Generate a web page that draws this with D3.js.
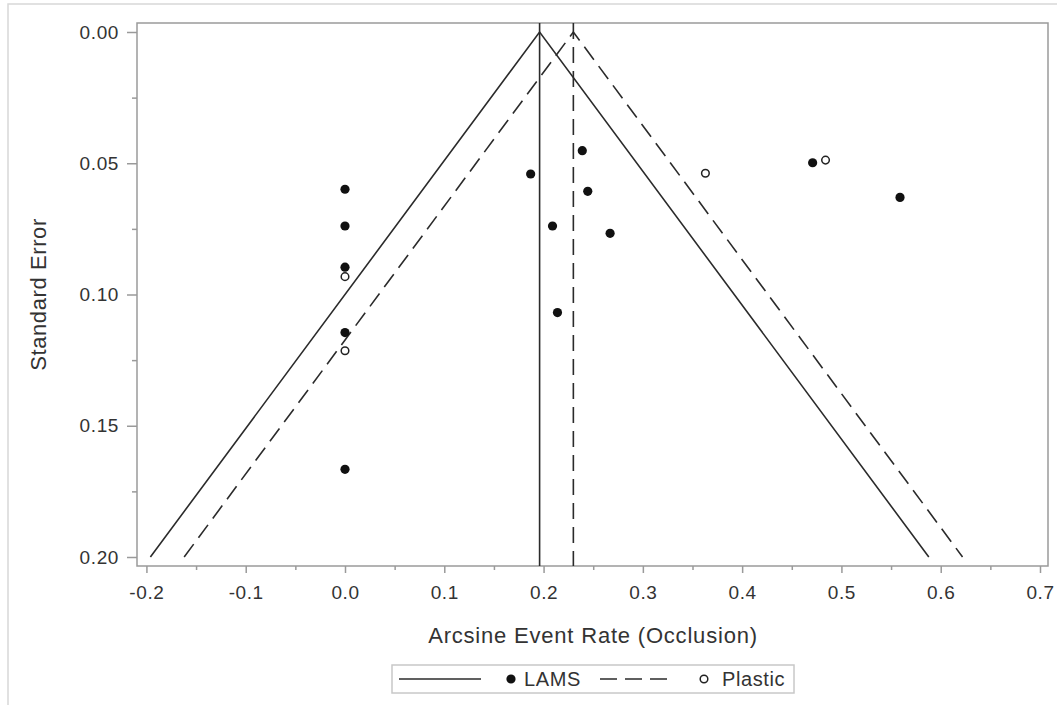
<!DOCTYPE html>
<html lang="en">
<head>
<meta charset="utf-8">
<title>Funnel plot: Arcsine Event Rate (Occlusion)</title>
<script src="https://cdn.jsdelivr.net/npm/d3@7"></script>
<style>
  body { margin: 0; background: #fff; }
  svg { display: block; font-family: "Liberation Sans", Arial, sans-serif; }
</style>
</head>
<body>
<script>
// data
var lamsRate = [0, 0, 0, 0, 0, 0.187, 0.239, 0.2445, 0.209, 0.267, 0.214, 0.471, 0.559];
var lamsSE   = [0.0599, 0.0739, 0.0896, 0.1145, 0.1666, 0.0541, 0.0452, 0.0607, 0.0739, 0.0767, 0.1069, 0.0498, 0.0630];
var plasticRate = [0, 0, 0.363, 0.484];
var plasticSE   = [0.0932, 0.1214, 0.0538, 0.0488];
var pooled = [0.196, 0.230];      // LAMS, Plastic
var seMax = 0.2;
var xTicks = [-0.2, -0.1, 0.0, 0.1, 0.2, 0.3, 0.4, 0.5, 0.6, 0.7];
var xMinor = [-0.15, -0.05, 0.05, 0.15, 0.25, 0.35, 0.45, 0.55, 0.65];
var yTicks = [0.00, 0.05, 0.10, 0.15, 0.20];
var yMinor = [0.025, 0.075, 0.125, 0.175];

var w = 1057, h = 705;
// plot area edges (note: "top" is a reserved window property)
var pLeft = 137, pRight = 1048, pTop = 23, pBottom = 566;

var svg = d3.select("body").append("svg")
  .attr("width", w)
  .attr("height", h);

// outer frame of the figure
svg.append("rect")
  .attr("x", 8).attr("y", 4)
  .attr("width", w).attr("height", h)
  .attr("fill", "none")
  .attr("stroke", "#d8d8d8")
  .attr("stroke-width", 1.5);

var xScale = d3.scaleLinear().domain([0, 0.7]).range([345, 1040]);
var yScale = d3.scaleLinear().domain([0, 0.2]).range([32, 557]);

// plot frame
svg.append("rect")
  .attr("x", pLeft).attr("y", pTop)
  .attr("width", pRight - pLeft).attr("height", pBottom - pTop)
  .attr("fill", "none")
  .attr("stroke", "#9a9a9a")
  .attr("stroke-width", 1.5);

var fmt1 = function(d) { return d3.format(".1f")(d).replace("\u2212", "-"); };
var fmt2 = function(d) { return d3.format(".2f")(d); };

// x axis
var xAxis = d3.axisBottom(xScale).tickValues(xTicks).tickSize(7).tickPadding(13).tickFormat(fmt1);
var xMinorAxis = d3.axisBottom(xScale).tickValues(xMinor).tickSize(4).tickFormat("");
var gx = svg.append("g").attr("transform", "translate(0," + pBottom + ")").call(xAxis);
var gxm = svg.append("g").attr("transform", "translate(0," + pBottom + ")").call(xMinorAxis);

// y axis
var yAxis = d3.axisLeft(yScale).tickValues(yTicks).tickSize(10).tickPadding(8).tickFormat(fmt2);
var yMinorAxis = d3.axisLeft(yScale).tickValues(yMinor).tickSize(5).tickFormat("");
var gy = svg.append("g").attr("transform", "translate(" + pLeft + ",0)").call(yAxis);
var gym = svg.append("g").attr("transform", "translate(" + pLeft + ",0)").call(yMinorAxis);

[gx, gxm, gy, gym].forEach(function(g) {
  g.attr("font-size", null).attr("font-family", null);
  g.select(".domain").remove();
  g.selectAll(".tick line").attr("stroke", "#9a9a9a").attr("stroke-width", 1.5);
  g.selectAll(".tick text")
    .attr("fill", "#333")
    .style("font-size", "19px")
    .style("letter-spacing", "0.6px");
});

// axis titles
svg.append("text")
  .attr("x", 593)
  .attr("y", 643)
  .attr("text-anchor", "middle")
  .style("font-size", "22px")
  .style("letter-spacing", "0.8px")
  .attr("fill", "#333")
  .text("Arcsine Event Rate (Occlusion)");

svg.append("text")
  .attr("transform", "translate(46," + ((pTop + pBottom) / 2) + ") rotate(-90)")
  .attr("text-anchor", "middle")
  .style("font-size", "22px")
  .style("letter-spacing", "0.6px")
  .attr("fill", "#333")
  .text("Standard Error");

// funnels: pooled estimate +/- 1.96*SE, and vertical line at pooled estimate
var dashes = ["none", "16,8"];
var line = d3.line()
  .x(function(d) { return xScale(d[0]); })
  .y(function(d) { return yScale(d[1]); });
pooled.forEach(function(p, i) {
  var g = svg.append("g")
    .attr("fill", "none")
    .attr("stroke", "#2b2b2b")
    .attr("stroke-width", 1.6)
    .attr("stroke-dasharray", dashes[i]);
  g.append("path").attr("d", line([[p - 1.96 * seMax, seMax], [p, 0], [p + 1.96 * seMax, seMax]]));
  g.append("line")
    .attr("x1", xScale(p)).attr("x2", xScale(p))
    .attr("y1", pTop).attr("y2", pBottom);
});

// points
svg.append("g").selectAll("circle")
  .data(d3.range(lamsRate.length))
  .enter()
  .append("circle")
  .attr("cx", function(i) { return xScale(lamsRate[i]); })
  .attr("cy", function(i) { return yScale(lamsSE[i]); })
  .attr("r", 4.6)
  .attr("fill", "#111");

svg.append("g").selectAll("circle")
  .data(d3.range(plasticRate.length))
  .enter()
  .append("circle")
  .attr("cx", function(i) { return xScale(plasticRate[i]); })
  .attr("cy", function(i) { return yScale(plasticSE[i]); })
  .attr("r", 3.8)
  .attr("fill", "#fff")
  .attr("stroke", "#222")
  .attr("stroke-width", 1.5);

// legend
var lg = svg.append("g");
lg.append("rect")
  .attr("x", 392).attr("y", 665)
  .attr("width", 402).attr("height", 28)
  .attr("fill", "#fff")
  .attr("stroke", "#c8c8c8")
  .attr("stroke-width", 1.5);
lg.append("line")
  .attr("x1", 399).attr("x2", 481).attr("y1", 679).attr("y2", 679)
  .attr("stroke", "#2b2b2b").attr("stroke-width", 1.6);
lg.append("circle").attr("cx", 511).attr("cy", 679).attr("r", 4.6).attr("fill", "#111");
lg.append("text").attr("x", 524).attr("y", 686)
  .style("font-size", "20px").style("letter-spacing", "0.6px").attr("fill", "#333").text("LAMS");
lg.append("line")
  .attr("x1", 600).attr("x2", 667).attr("y1", 679).attr("y2", 679)
  .attr("stroke", "#2b2b2b").attr("stroke-width", 1.6)
  .attr("stroke-dasharray", "17,8");
lg.append("circle").attr("cx", 704).attr("cy", 679).attr("r", 3.8)
  .attr("fill", "#fff").attr("stroke", "#222").attr("stroke-width", 1.5);
lg.append("text").attr("x", 722).attr("y", 686)
  .style("font-size", "20px").style("letter-spacing", "0.6px").attr("fill", "#333").text("Plastic");
</script>
</body>
</html>
